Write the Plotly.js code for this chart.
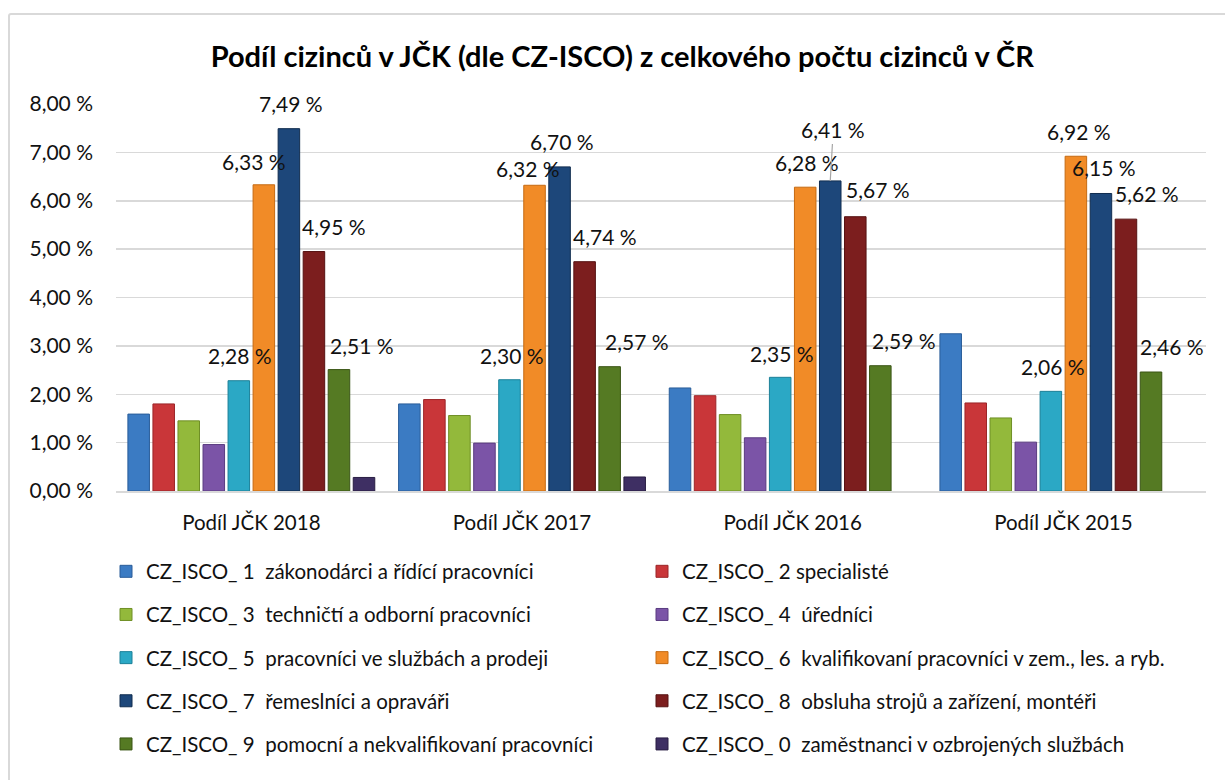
<!DOCTYPE html>
<html>
<head>
<meta charset="utf-8">
<script src="https://cdn.plot.ly/plotly-3.0.1.min.js"></script>
<style>
  html, body { margin: 0; padding: 0; background: #fff; }
  #frame { position: absolute; left: 8px; top: 13px; width: 1230px; height: 790px; border: 2px solid #d9d9d9; box-sizing: border-box; border-radius: 3px; pointer-events: none; z-index: 5; }
  #chart { position: absolute; left: 0; top: 0; width: 1225px; height: 780px; }
</style>
</head>
<body>
<div id="chart"></div>
<div id="frame"></div>
<script>
// ---- data ----
const categories = ["Podíl JČK 2018", "Podíl JČK 2017", "Podíl JČK 2016", "Podíl JČK 2015"];
const seriesNames = [
  "CZ_ISCO_ 1  zákonodárci a řídící pracovníci",
  "CZ_ISCO_ 2 specialisté",
  "CZ_ISCO_ 3  techničtí a odborní pracovníci",
  "CZ_ISCO_ 4  úředníci",
  "CZ_ISCO_ 5  pracovníci ve službách a prodeji",
  "CZ_ISCO_ 6  kvalifikovaní pracovníci v zem., les. a ryb.",
  "CZ_ISCO_ 7  řemeslníci a opraváři",
  "CZ_ISCO_ 8  obsluha strojů a zařízení, montéři",
  "CZ_ISCO_ 9  pomocní a nekvalifikovaní pracovníci",
  "CZ_ISCO_ 0  zaměstnanci v ozbrojených službách"
];
const isco1 = [1.59, 1.80, 2.13, 3.25];
const isco2 = [1.80, 1.89, 1.97, 1.82];
const isco3 = [1.45, 1.56, 1.58, 1.51];
const isco4 = [0.96, 0.99, 1.10, 1.01];
const isco5 = [2.28, 2.30, 2.35, 2.06];
const isco6 = [6.33, 6.32, 6.28, 6.92];
const isco7 = [7.49, 6.70, 6.41, 6.15];
const isco8 = [4.95, 4.74, 5.67, 5.62];
const isco9 = [2.51, 2.57, 2.59, 2.46];
const isco0 = [0.28, 0.29, null, null];
const seriesValues = [isco1, isco2, isco3, isco4, isco5, isco6, isco7, isco8, isco9, isco0];
const labelledSeries = [4, 5, 6, 7, 8];   // series that show data labels

// ---- styles ----
const colors = ["#3b7bc3", "#c93639", "#93b93b", "#7b54a7", "#2ba8c5", "#f18b27", "#1d477a", "#7c1e1e", "#557a23", "#3e2f63"];
const lineColors = ["#2a5d99", "#9b2528", "#6f8f26", "#5a3b80", "#1c8098", "#c56a12", "#102c4f", "#561212", "#3a5515", "#281d42"];
// label offsets in px (dx horizontal, dy = height of label centre above bar top), per labelled series per group
const labelDx = [[1, 2, 2, 2], [-10, -7, 2, 3], [2, 2, 3, 3], [20, 20, 23, 21], [23, 27, 24, 21]];
const labelDy = [[25, 24, 23.5, 25], [23.5, 17, 24.5, 25], [25, 25.5, 51, 25.5], [25.5, 25, 27, 25.5], [24, 25, 25, 25.5]];
const FONT = "Lato, 'Open Sans', sans-serif";
const FS = 20.5;
const bargap = 0.075;

const traces = seriesValues.map((vals, k) => ({
  type: "bar",
  name: seriesNames[k],
  x: categories,
  y: vals,
  marker: { color: colors[k], line: { color: lineColors[k], width: 1 } },
  legend: (k % 2 === 0 && k !== 9) ? "legend" : "legend2",
  legendgroup: "g" + k,
  hoverinfo: "skip"
}));
traces[9].legend = "legend2";

const fmt = v => v.toFixed(2).replace(".", ",") + " %";
const nS = seriesValues.length;
const annotations = [];
labelledSeries.forEach((k, li) => {
  seriesValues[k].forEach((v, g) => {
    if (v === null) return;
    const xpos = g + ((k + 0.5) / nS - 0.5) * (1 - bargap);
    const dy = labelDy[li][g];
    const withArrow = dy > 40;
    annotations.push({
      x: xpos, y: v, xref: "x", yref: "y",
      text: fmt(v),
      showarrow: withArrow,
      ax: labelDx[li][g], ay: -dy,
      arrowhead: 0, arrowwidth: 1.2, arrowcolor: "#a6a6a6", standoff: 0,
      xanchor: "center", yanchor: "middle",
      xshift: withArrow ? 0 : labelDx[li][g],
      yshift: withArrow ? 0 : dy,
      font: { family: FONT, size: 21, color: "#111" }
    });
  });
});

const legendCommon = {
  yref: "container", y: 1 - 551.5 / 780, yanchor: "top",
  xref: "container", xanchor: "left",
  orientation: "v", tracegroupgap: 13.5,
  font: { family: FONT, size: FS, color: "#111" },
  bgcolor: "rgba(0,0,0,0)", itemclick: false, itemdoubleclick: false
};

const layout = {
  width: 1225, height: 780,
  paper_bgcolor: "#fff", plot_bgcolor: "#fff",
  margin: { l: 116, r: 19, t: 103.5, b: 288.5, autoexpand: false },
  separators: ", ",
  font: { family: FONT, size: FS, color: "#111" },
  title: {
    text: "<b>Podíl cizinců v JČK (dle CZ-ISCO) z celkového počtu cizinců v ČR</b>",
    font: { family: FONT, size: 29, color: "#000" },
    x: 0.508, xanchor: "center", xref: "container",
    y: 0.927, yanchor: "middle", yref: "container"
  },
  barmode: "group",
  bargap: bargap,
  bargroupgap: 0.14,
  xaxis: {
    type: "category",
    showgrid: false, zeroline: false,
    showline: true, linecolor: "#d9d9d9", linewidth: 2,
    ticks: "", ticklabelstandoff: 12,
    tickfont: { family: FONT, size: FS, color: "#111" },
    fixedrange: true
  },
  yaxis: {
    range: [0, 8], dtick: 1, tick0: 0,
    tickformat: ".2f", ticksuffix: " %",
    showgrid: true, gridcolor: "#d9d9d9", gridwidth: 1.5,
    zeroline: false, showline: false, ticks: "",
    ticklabelstandoff: 22,
    tickfont: { family: FONT, size: 21, color: "#111" },
    fixedrange: true
  },
  showlegend: true,
  legend: Object.assign({}, legendCommon, { x: 106 / 1225 }),
  legend2: Object.assign({}, legendCommon, { x: 642 / 1225 }),
  annotations: annotations
};

Plotly.newPlot("chart", traces, layout, { displayModeBar: false, staticPlot: true });
</script>
</body>
</html>
